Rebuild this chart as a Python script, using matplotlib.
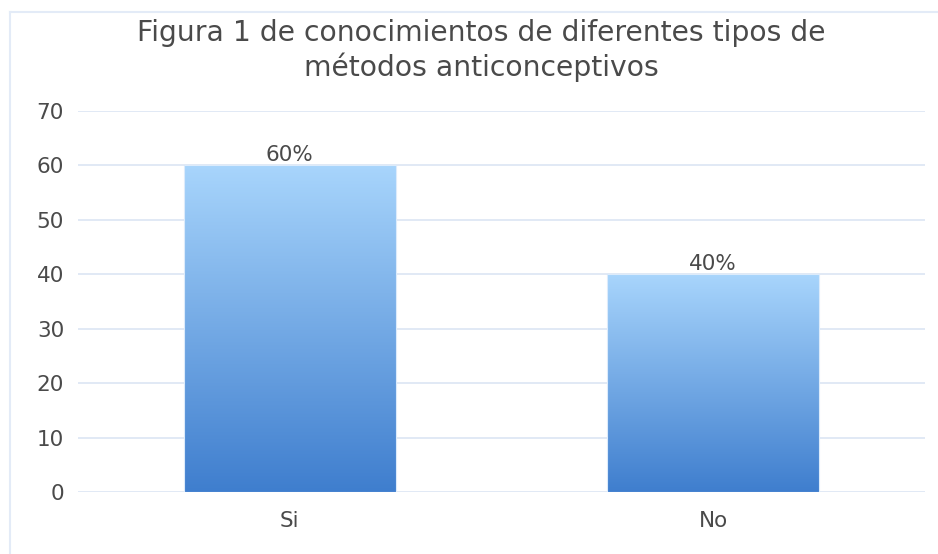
import matplotlib
matplotlib.use("Agg")
import matplotlib.pyplot as plt
import numpy as np
from matplotlib.colors import LinearSegmentedColormap
from matplotlib.lines import Line2D

categories = ["Si", "No"]
values = [60, 40]
labels = ["60%", "40%"]
yticks = [0, 10, 20, 30, 40, 50, 60, 70]
title_lines = ["Figura 1 de conocimientos de diferentes tipos de",
               "métodos anticonceptivos"]

plt.rcParams['font.family'] = ['DejaVu Sans']

W, H = 938, 554
TXT = '#4a4a4a'
fig = plt.figure(figsize=(W / 100, H / 100), dpi=100)
ax = fig.add_axes([78 / W, 1 - 492 / H, (925 - 78) / W, (492 - 111) / H])

x = np.arange(len(categories))
bars = ax.bar(x, values, width=0.5, facecolor='none', edgecolor='#DCEBFB', linewidth=0.8, zorder=3)

cmap = LinearSegmentedColormap.from_list("g", ["#3F7ECE", "#A8D5FC"])
grad = np.linspace(0, 1, 256).reshape(-1, 1)
for b in bars:
    x0, y0 = b.get_x(), b.get_y()
    ax.imshow(grad, cmap=cmap, origin='lower', aspect='auto',
              extent=(x0, x0 + b.get_width(), y0, y0 + b.get_height()), zorder=2)

for xi, v, lab in zip(x, values, labels):
    ax.text(xi, v + 0.85, lab, ha='center', va='baseline', fontsize=15.5, color=TXT)

ax.set_xlim(-0.5, len(categories) - 0.5)
ax.set_ylim(0, 70)
ax.set_yticks(yticks)
ax.set_xticks(x)
ax.set_xticklabels(categories)
ax.tick_params(axis='both', length=0, labelsize=15.5, labelcolor=TXT)
ax.tick_params(axis='y', pad=10)
ax.tick_params(axis='x', pad=14)
ax.grid(axis='y', color='#E1E9F5', linewidth=1.4, zorder=0)
ax.set_axisbelow(True)
for s in ax.spines.values():
    s.set_visible(False)

for line, ybase in zip(title_lines, [41, 76]):
    fig.text(481 / W, 1 - ybase / H, line, ha='center', va='baseline', fontsize=20.3,
             color=TXT)

fig.add_artist(Line2D([10 / W, 10 / W], [0, 1 - 12 / H], transform=fig.transFigure,
                      color='#E3EBF7', linewidth=1.5))
fig.add_artist(Line2D([10 / W, 1], [1 - 12 / H, 1 - 12 / H], transform=fig.transFigure,
                      color='#E3EBF7', linewidth=1.5))

fig.savefig("out.png", dpi=100, facecolor='white')
